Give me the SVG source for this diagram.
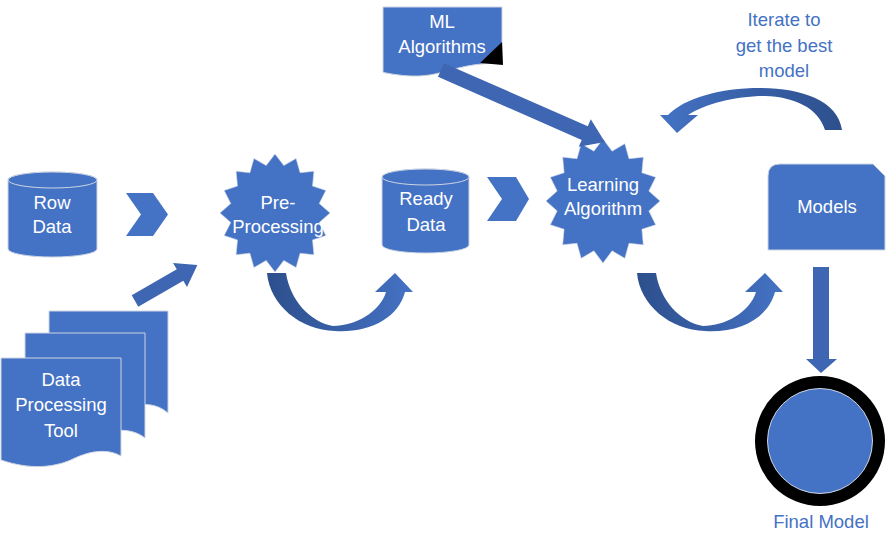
<svg xmlns="http://www.w3.org/2000/svg" xmlns:xlink="http://www.w3.org/1999/xlink" width="889" height="546" viewBox="0 0 889 546">
<style>
.shape{fill:#4472C4;stroke:#CDD5E3;stroke-width:1}
.wt{font-family:"Liberation Sans",Arial,sans-serif;font-size:18.5px;fill:#FFFFFF;text-anchor:middle}
.bt{font-family:"Liberation Sans",Arial,sans-serif;font-size:18.5px;fill:#4472C4;text-anchor:middle}
.arrow{fill:#3E66B2}
.chev{fill:#4472C4}
</style>
<defs>
<path id="star16" d="M100,0 L80.4,16 L92.4,38.3 L68.2,45.6 L70.7,70.7 L45.6,68.2 L38.3,92.4 L16,80.4 L0,100 L-16,80.4 L-38.3,92.4 L-45.6,68.2 L-70.7,70.7 L-68.2,45.6 L-92.4,38.3 L-80.4,16 L-100,0 L-80.4,-16 L-92.4,-38.3 L-68.2,-45.6 L-70.7,-70.7 L-45.6,-68.2 L-38.3,-92.4 L-16,-80.4 L0,-100 L16,-80.4 L38.3,-92.4 L45.6,-68.2 L70.7,-70.7 L68.2,-45.6 L92.4,-38.3 L80.4,-16 Z"/>
<linearGradient id="ugrad" x1="0" y1="0" x2="1" y2="0">
<stop offset="0" stop-color="#2D4F8C"/>
<stop offset="1" stop-color="#4472C4"/>
</linearGradient>
<linearGradient id="igrad" x1="1" y1="0" x2="0" y2="0">
<stop offset="0" stop-color="#2D4F8C"/>
<stop offset="1" stop-color="#4472C4"/>
</linearGradient>
</defs>

<g id="data-processing-tool">
<path class="shape" d="M49,311 H168 V413 C160,406 150,403 135,405 C110,410 80,418 49,408 Z"/>
<path class="shape" d="M25,333 H145 V438 C135,430 120,428 105,433 C80,442 50,444 25,434 Z"/>
<path class="shape" d="M1,358 H121 V456 C110,450 95,449 75,458 C55,468 30,470 1,460 Z"/>
<text class="wt" x="61" y="386">Data</text>
<text class="wt" x="61" y="411">Processing</text>
<text class="wt" x="61" y="437">Tool</text>
</g>

<g id="row-data">
<path class="shape" d="M8,180 A44.5,8 0 0 1 97,180 L97,249 A44.5,8 0 0 1 8,249 Z"/>
<ellipse class="shape" cx="52.5" cy="180" rx="44.5" ry="8"/>
<text class="wt" x="52" y="209">Row</text>
<text class="wt" x="52" y="233">Data</text>
</g>

<g id="pre-processing">
<use xlink:href="#star16" class="shape" vector-effect="non-scaling-stroke" transform="translate(275,213) scale(0.55,0.59)"/>
<text class="wt" x="278" y="209">Pre-</text>
<text class="wt" x="278" y="233">Processing</text>
</g>

<g id="ready-data">
<path class="shape" d="M382,177 A43.5,8 0 0 1 469,177 L469,245 A43.5,8 0 0 1 382,245 Z"/>
<ellipse class="shape" cx="425.5" cy="177" rx="43.5" ry="8"/>
<text class="wt" x="426" y="205">Ready</text>
<text class="wt" x="426" y="231">Data</text>
</g>

<g id="learning-algorithm">
<use xlink:href="#star16" class="shape" vector-effect="non-scaling-stroke" transform="translate(603,201) scale(0.57,0.62)"/>
<text class="wt" x="603" y="191">Learning</text>
<text class="wt" x="603" y="215">Algorithm</text>
</g>

<g id="ml-algorithms">
<path class="shape" d="M383,7 H502 V63 C442.5,63 442.5,84.5 383,72.4 Z"/>
<polygon points="480,63 502,42 503,65" fill="#000000"/>
<text class="wt" x="442" y="28">ML</text>
<text class="wt" x="442" y="53">Algorithms</text>
</g>

<g id="models">
<path class="shape" d="M768,176 Q768,164 780,164 L873,164 L885,176 L885,250 L768,250 Z"/>
<text class="wt" x="827" y="213">Models</text>
</g>

<g id="final-model">
<circle cx="820" cy="441" r="65" fill="#000000"/>
<circle cx="820" cy="441" r="52.5" class="shape"/>
<text class="bt" x="821" y="528">Final Model</text>
</g>

<g id="iterate-label">
<text class="bt" x="784" y="26">Iterate to</text>
<text class="bt" x="784" y="52">get the best</text>
<text class="bt" x="784" y="77">model</text>
</g>

<g id="connectors">
<polygon class="chev" points="126,193 153,193 168,214.5 153,236 126,236 141,214.5"/>
<polygon class="chev" points="487,177 516,177 529,199 516,221 487,221 502,199"/>
<polygon class="arrow" transform="translate(135,301) rotate(-30)" points="0,-6.5 52,-6.5 52,-14 72,0 52,14 52,6.5 0,6.5"/>
<polygon class="arrow" transform="translate(441,70) rotate(23.7)" points="0,-7.5 157,-7.5 157,-15 179,0 157,15 157,7.5 0,7.5"/>
<polygon class="arrow" points="813,267 829,267 829,359 837,359 821,373 806,359 813,359"/>
<path fill="url(#ugrad)" d="M267,273 L286,273 C290,300 310,322 333,326 C355,326 380,312 386,292 L375,292 L395,273 L413,292 L405,292 C398,318 370,333 335,331 C300,330 270,305 267,273 Z"/>
<path fill="url(#ugrad)" transform="translate(370,0)" d="M267,273 L286,273 C290,300 310,322 333,326 C355,326 380,312 386,292 L375,292 L395,273 L413,292 L405,292 C398,318 370,333 335,331 C300,330 270,305 267,273 Z"/>
<path fill="url(#igrad)" d="M842,130 C838,100 800,88 760,88 C720,88 685,98 668,115 L660,115 L677,133 L698,115 L688,115 C705,104 735,96 765,96 C795,97 818,108 825,130 Z"/>
</g>
</svg>
